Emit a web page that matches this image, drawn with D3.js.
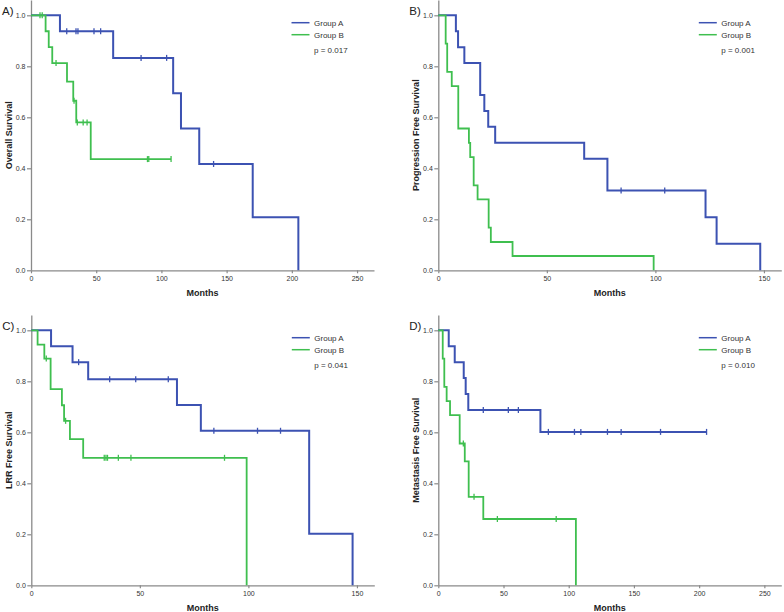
<!DOCTYPE html>
<html><head><meta charset="utf-8">
<script src="https://cdn.jsdelivr.net/npm/d3@7"></script>
<style>
body{margin:0;background:#fff;}
svg{display:block;font-family:"Liberation Sans",Arial,sans-serif;}
</style></head>
<body><svg id="c" width="784" height="612"></svg>
<script>
// ---- data (time in months, survival proportion) ----
const groups = ["Group A", "Group B"];
const panelLabels = ["A)", "B)", "C)", "D)"];
const yTitles = ["Overall Survival", "Progression Free Survival", "LRR Free Survival", "Metastasis Free Survival"];
const pValues = ["p = 0.017", "p = 0.001", "p = 0.041", "p = 0.010"];
const xTicksA = [0, 50, 100, 150, 200, 250];
const xTicksB = [0, 50, 100, 150];
const yTicks = [0.0, 0.2, 0.4, 0.6, 0.8, 1.0];

// Overall survival
const osA = [[0,1],[22.2,0.9375],[63,0.833],[109,0.694],[115,0.556],[129,0.417],[170,0.208],[205,0]];
const osACens = [27.4,34.5,36,48.3,53.4,84.4,104,140];
const osB = [[0,1],[11.2,0.9375],[13.6,0.875],[16.3,0.8125],[27.6,0.74],[32.4,0.665],[34.7,0.58],[45.8,0.436]];
const osBCens = [6.9,8.6,19.2,33,35.5,40,43,89.3,90.3,107.4];

// Progression free survival
const pfsA = [[0,1],[8.1,0.9375],[9.1,0.875],[12,0.8125],[19.3,0.6875],[21.2,0.625],[23,0.5625],[26.2,0.5],[67.2,0.4375],[77.9,0.3125],[123.1,0.208],[128.2,0.104],[148.3,0]];
const pfsACens = [84.2,104.3];
const pfsB = [[0,1],[3.4,0.889],[4.1,0.778],[6.2,0.722],[9.2,0.556],[14.1,0.5],[14.7,0.444],[16.3,0.333],[18.1,0.278],[23.2,0.167],[24.2,0.111],[34.2,0.056],[99.2,0]];
const pfsBCens = [];

// LRR free survival
const lrrA = [[0,1],[9.1,0.9375],[19,0.875],[26.2,0.808],[67.1,0.707],[78.1,0.606],[128,0.202],[148,0]];
const lrrACens = [21.8,36.1,48.1,63.1,84.1,104.2,114.8];
const lrrB = [[0,1],[2.9,0.944],[6,0.889],[8.9,0.769],[14.1,0.706],[15.1,0.645],[17.8,0.573],[23.9,0.5],[99.2,0]];
const lrrBCens = [6.9,15.8,33.6,34.4,35.1,40.1,45.9,89];

// Metastasis free survival
const mfsA = [[0,1],[8,0.9375],[12.6,0.875],[19.5,0.8125],[21,0.75],[23,0.6875],[78.3,0.6016]];
const mfsACens = [34.5,53.7,61.4,84.4,104.4,109.3,129.7,140.2,170.4,205.7];
const mfsB = [[0,1],[3.4,0.889],[4.6,0.778],[6.4,0.722],[9,0.667],[16.4,0.556],[20.3,0.486],[23.3,0.347],[34.5,0.26],[105.5,0]];
const mfsBCens = [19.2,27.4,45.3,90.4];

const colors = ["#3c52b2", "#3fbf4f"];

const panels = [
  {ox:0,     oy:0,   xMax:263, ticks:xTicksA, series:[[osA,osACens],[osB,osBCens]]},
  {ox:407.3, oy:0,   xMax:158, ticks:xTicksB, series:[[pfsA,pfsACens],[pfsB,pfsBCens]]},
  {ox:0.3,   oy:315, xMax:158, ticks:xTicksB, series:[[lrrA,lrrACens],[lrrB,lrrBCens]]},
  {ox:407.3, oy:315, xMax:263, ticks:xTicksA, series:[[mfsA,mfsACens],[mfsB,mfsBCens]]}
];

const svg = d3.select("#c");
const axisCol = "#8a8a8a", textCol = "#333";

panels.forEach((p, i) => {
  const left = 31 + p.ox, right = 374 + p.ox;
  const top = 0 + p.oy, bottom = 270.3 + p.oy;
  const x = d3.scaleLinear().domain([0, p.xMax]).range([left, right]);
  const y = d3.scaleLinear().domain([0, 1.06]).range([bottom, top]);
  const g = svg.append("g");

  // axes
  const ya = g.append("g").attr("transform", `translate(${left},0)`)
    .call(d3.axisLeft(y).tickValues(yTicks).tickFormat(d3.format(".1f")).tickSize(4).tickSizeOuter(0).tickPadding(1.5));
  const xa = g.append("g").attr("transform", `translate(0,${bottom})`)
    .call(d3.axisBottom(x).tickValues(p.ticks).tickSize(3).tickSizeOuter(0).tickPadding(2.5));
  [ya, xa].forEach(a => {
    a.select(".domain").attr("stroke", axisCol).attr("stroke-width", 1.3);
    a.selectAll(".tick line").attr("stroke", axisCol).attr("stroke-width", 1.2);
    a.selectAll(".tick text").attr("fill", textCol).style("font-size", "7px").style("font-family", "'Liberation Sans', Arial, sans-serif");
  });

  // curves
  p.series.forEach(([steps, cens], k) => {
    const pts = steps.slice();
    const last = steps[steps.length - 1];
    const maxC = cens.length ? d3.max(cens) : -1;
    if (maxC > last[0]) pts.push([maxC, last[1]]);
    g.append("path").datum(pts)
      .attr("fill", "none").attr("stroke", colors[k]).attr("stroke-width", k === 0 ? 2 : 1.8)
      .attr("d", d3.line().x(d => x(d[0])).y(d => y(d[1])).curve(d3.curveStepAfter));
    const sAt = t => { let s = 1; steps.forEach(d => { if (d[0] <= t) s = d[1]; }); return s; };
    g.selectAll(null).data(cens).enter().append("line")
      .attr("x1", d => x(d)).attr("x2", d => x(d))
      .attr("y1", d => y(sAt(d)) - 3).attr("y2", d => y(sAt(d)) + 3)
      .attr("stroke", colors[k]).attr("stroke-width", 1.3);
  });

  // titles
  g.append("text").attr("x", p.ox + 2).attr("y", top + 15).text(panelLabels[i])
    .attr("fill", "#222").style("font-size", "11.5px");
  g.append("text").attr("transform", `translate(${p.ox + 11.5},${(top + bottom) / 2}) rotate(-90)`)
    .attr("text-anchor", "middle").text(yTitles[i])
    .attr("fill", "#222").style("font-size", "9px").style("font-weight", "bold");
  g.append("text").attr("x", (left + right) / 2).attr("y", bottom + 25.5)
    .attr("text-anchor", "middle").text("Months")
    .attr("fill", "#222").style("font-size", "9px").style("font-weight", "bold");

  // legend
  const lx = 291.5 + p.ox;
  groups.forEach((name, k) => {
    const ly = top + 22.7 + k * 12;
    g.append("line").attr("x1", lx).attr("x2", lx + 18).attr("y1", ly).attr("y2", ly)
      .attr("stroke", colors[k]).attr("stroke-width", 1.5);
    g.append("text").attr("x", lx + 22.5).attr("y", ly + 2.8).text(name)
      .attr("fill", textCol).style("font-size", "8px");
  });
  g.append("text").attr("x", lx + 22.5).attr("y", top + 53).text(pValues[i])
    .attr("fill", textCol).style("font-size", "8px");
});
</script></body></html>
